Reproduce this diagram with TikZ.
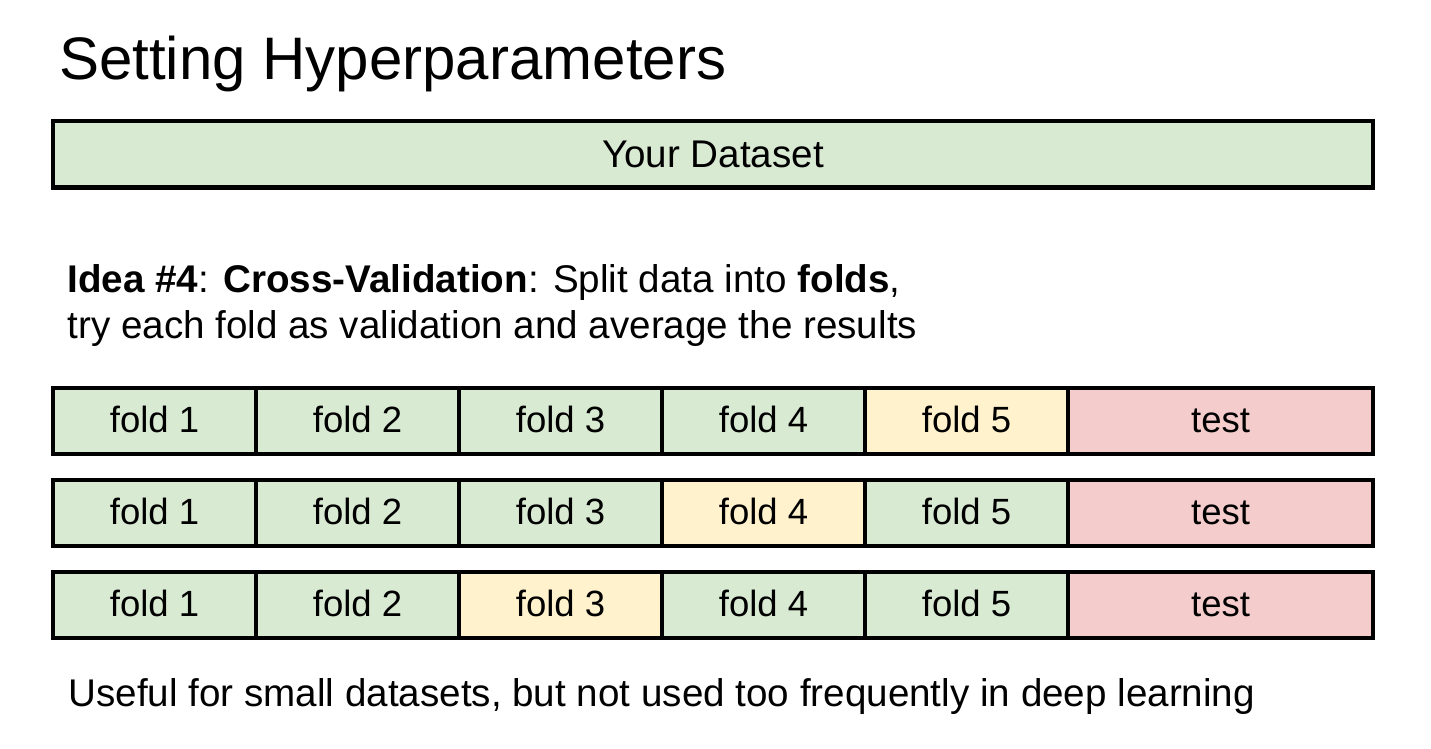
\documentclass[tikz,border=0pt]{standalone}
\usepackage{fontspec}
\setmainfont{Liberation Sans}
\definecolor{cvgreen}{HTML}{D9EAD3}
\definecolor{cvyellow}{HTML}{FFF2CC}
\definecolor{cvred}{HTML}{F4CCCC}
\tikzset{
  cell/.style={draw=black, line width=4pt, inner sep=0pt, outer sep=0pt,
    minimum height=66pt, text height=22.6pt, text depth=0pt,
    font=\fontsize{36.5}{36.5}\selectfont},
  fold/.style={cell, minimum width=203pt},
  testcell/.style={cell, minimum width=305pt, fill=cvred},
  bodytext/.style={anchor=base west, inner sep=0pt, outer sep=0pt,
    font=\fontsize{38.6}{46}\selectfont},
}
\begin{document}
\begin{tikzpicture}[x=1pt,y=-1pt]
\useasboundingbox (0,0) rectangle (1431,748);
\node[anchor=base west, inner sep=0pt, font=\fontsize{60}{60}\selectfont] (title) at (59,79) {Setting Hyperparameters};
\node[draw=black, line width=4.5pt, fill=cvgreen, inner sep=0pt, minimum width=1320pt, minimum height=66.5pt,
  text height=27.4pt, text depth=0pt, font=\fontsize{38.6}{38.6}\selectfont] (data) at (713,154) {Your Dataset};
\node[bodytext] (idea1) at (67.5,292.3) {\textbf{Idea \#4}: \textbf{Cross-Validation}: Split data into \textbf{folds},};
\node[bodytext] (idea2) at (67.5,338.3) {try each fold as validation and average the results};
% row 1
\node[fold, fill=cvgreen] (a1) at (154.5,421) {fold 1};
\node[fold, fill=cvgreen] (a2) at (357.5,421) {fold 2};
\node[fold, fill=cvgreen] (a3) at (560.5,421) {fold 3};
\node[fold, fill=cvgreen] (a4) at (763.5,421) {fold 4};
\node[fold, fill=cvyellow] (a5) at (966.5,421) {fold 5};
\node[testcell] (at) at (1220.5,421) {test};
% row 2
\node[fold, fill=cvgreen] (b1) at (154.5,513) {fold 1};
\node[fold, fill=cvgreen] (b2) at (357.5,513) {fold 2};
\node[fold, fill=cvgreen] (b3) at (560.5,513) {fold 3};
\node[fold, fill=cvyellow] (b4) at (763.5,513) {fold 4};
\node[fold, fill=cvgreen] (b5) at (966.5,513) {fold 5};
\node[testcell] (bt) at (1220.5,513) {test};
% row 3
\node[fold, fill=cvgreen] (c1) at (154.5,605) {fold 1};
\node[fold, fill=cvgreen] (c2) at (357.5,605) {fold 2};
\node[fold, fill=cvyellow] (c3) at (560.5,605) {fold 3};
\node[fold, fill=cvgreen] (c4) at (763.5,605) {fold 4};
\node[fold, fill=cvgreen] (c5) at (966.5,605) {fold 5};
\node[testcell] (ct) at (1220.5,605) {test};
\node[bodytext] (note) at (68.5,706.7) {Useful for small datasets, but not used too frequently in deep learning};
\end{tikzpicture}
\end{document}
